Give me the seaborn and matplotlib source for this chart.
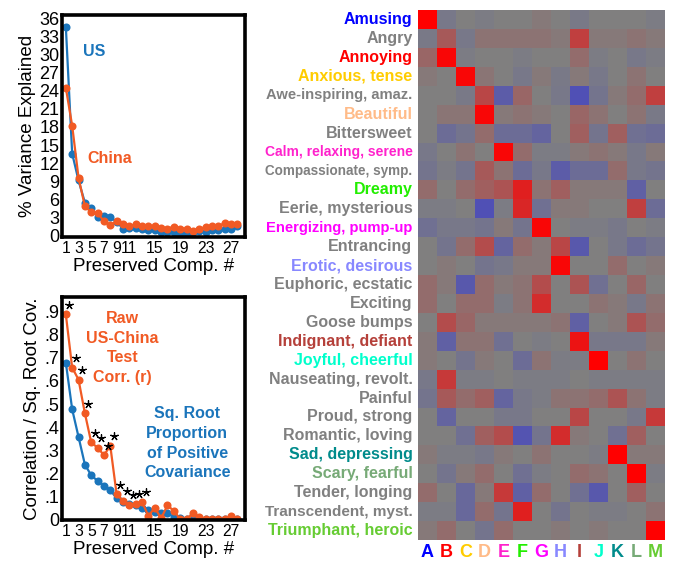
import numpy as np
import pandas as pd
import matplotlib
matplotlib.use("Agg")
import matplotlib.pyplot as plt
import matplotlib.transforms as mtransforms
from matplotlib.colors import LinearSegmentedColormap
import seaborn as sns

# ----------------------------------------------------
# Data
# ----------------------------------------------------
comp = list(range(1, 29))
us_var = [34.6, 13.6, 9.15, 5.5, 4.6, 3.1, 3.3, 3.1, 2.3, 1.2, 1.3, 1.3, 1.2, 1.0,
          1.0, 0.7, 0.7, 0.7, 0.4, 0.4, 0.7, 0.8, 0.7, 0.9, 0.9, 1.2, 1.2, 1.6]
china_var = [24.5, 18.2, 9.6, 4.9, 3.9, 3.8, 2.4, 1.8, 2.4, 1.9, 1.6, 1.9, 1.6, 1.6,
             1.6, 1.3, 1.2, 1.5, 1.2, 1.2, 0.8, 1.2, 1.4, 1.6, 1.6, 2.1, 1.9, 1.9]

raw_corr = [0.89, 0.658, 0.606, 0.46, 0.333, 0.31, 0.278, 0.318, 0.107, 0.08, 0.062,
            0.066, 0.075, 0.013, 0.05, 0.003, 0.06, 0.035, 0.0, 0.0, 0.025, 0.01,
            0.0, 0.0, 0.0, 0.0, 0.013, 0.0]
sqrt_cov = [0.68, 0.477, 0.357, 0.237, 0.19, 0.166, 0.145, 0.126, 0.09, 0.075, 0.065,
            0.06, 0.046, 0.04, 0.03, 0.028, 0.025, 0.01, 0.003, 0.002, 0.002, 0.002,
            0.002, 0.002, 0.002, 0.002, 0.002, 0.002]
n_significant = 13

comp_ticks = [1, 3, 5, 7, 9, 11, 15, 19, 23, 27]
var_ticks = [0, 3, 6, 9, 12, 15, 18, 21, 24, 27, 30, 33, 36]
corr_ticks = [0, 0.1, 0.2, 0.3, 0.4, 0.5, 0.6, 0.7, 0.8, 0.9]
corr_tick_labels = ["0", ".1", ".2", ".3", ".4", ".5", ".6", ".7", ".8", ".9"]

emotions = ["Amusing", "Angry", "Annoying", "Anxious, tense", "Awe-inspiring, amaz.",
            "Beautiful", "Bittersweet", "Calm, relaxing, serene", "Compassionate, symp.",
            "Dreamy", "Eerie, mysterious", "Energizing, pump-up", "Entrancing",
            "Erotic, desirous", "Euphoric, ecstatic", "Exciting", "Goose bumps",
            "Indignant, defiant", "Joyful, cheerful", "Nauseating, revolt.", "Painful",
            "Proud, strong", "Romantic, loving", "Sad, depressing", "Scary, fearful",
            "Tender, longing", "Transcendent, myst.", "Triumphant, heroic"]
GRAY = "#808080"
emotion_colors = ["#0000ff", GRAY, "#ff0000", "#ffcc00", GRAY, "#ffbb88", GRAY, "#ff22cc",
                  GRAY, "#22ee00", GRAY, "#ff00ff", GRAY, "#8888ff", GRAY, GRAY, GRAY,
                  "#b5403a", "#00ffcc", GRAY, GRAY, GRAY, GRAY, "#008b8b", "#77aa77",
                  GRAY, GRAY, "#66cc33"]

factors = list("ABCDEFGHIJKLM")
factor_colors = ["#0000ff", "#ff0000", "#ffcc00", "#ffbb88", "#ff22cc", "#22ee00", "#ff00ff",
                 "#8888ff", "#b5403a", "#00ffcc", "#008b8b", "#77aa77", "#66cc33"]

loadings = [
    [1.0, -0.1, 0, -0.05, 0, 0, 0.05, 0, -0.08, 0, 0, 0, -0.05],
    [-0.08, 0.3, -0.1, 0.1, 0.1, 0.1, 0.1, 0.05, 0.5, 0.05, 0.05, 0.1, 0.05],
    [0.2, 0.95, -0.05, 0, 0, -0.05, 0, 0, 0.15, -0.05, 0, -0.1, -0.05],
    [0.05, 0, 0.95, 0.08, 0, -0.1, 0.05, -0.08, 0.05, -0.1, 0, 0.1, 0],
    [0, 0, -0.08, 0.45, -0.45, 0.2, 0, -0.1, -0.6, -0.15, 0.05, 0.15, 0.5],
    [0, 0.08, 0.08, 0.95, 0.05, 0.1, 0.05, 0, 0.2, 0.1, 0, 0.1, -0.08],
    [0, -0.25, -0.15, 0.15, -0.25, -0.25, -0.35, 0, 0.25, -0.15, 0.25, -0.2, -0.25],
    [-0.1, 0, 0.1, 0, 0.95, 0.15, -0.05, -0.05, 0.05, 0.1, 0.05, -0.1, 0.05],
    [-0.15, -0.05, -0.15, 0.3, 0.1, -0.25, -0.1, -0.45, -0.25, -0.25, 0.15, -0.1, -0.15],
    [0.15, 0, 0.15, 0.25, 0.35, 0.75, 0.1, 0.25, 0.05, 0.05, 0.05, -0.4, 0],
    [-0.05, -0.05, 0, -0.6, -0.05, 0.7, -0.2, 0.05, 0.05, 0, 0, 0.5, -0.25],
    [-0.2, -0.1, -0.1, -0.15, 0.05, -0.15, 0.95, 0, -0.05, -0.05, -0.1, 0, -0.05],
    [0, -0.15, 0.15, 0.4, -0.35, 0.15, 0.05, 0.45, -0.5, 0, -0.1, -0.25, -0.15],
    [0, 0.05, 0, -0.15, -0.1, 0.05, 0.05, 0.95, 0, 0, 0.15, 0, 0.05],
    [0.15, 0.05, -0.5, 0.15, 0.05, 0.1, 0.4, 0, 0.35, -0.2, 0, 0.2, 0],
    [0.15, 0, 0.15, 0.15, -0.05, 0.1, 0.65, 0, 0, 0.1, 0.05, -0.1, 0.1],
    [0, 0.4, 0.2, 0.05, 0.05, 0.05, 0.05, 0.1, -0.4, 0, 0.05, 0.35, 0.15],
    [0.05, -0.4, 0.1, 0.1, -0.2, 0, -0.05, 0, 0.85, -0.1, -0.1, -0.1, 0.05],
    [0.05, 0, -0.15, 0.05, 0, -0.25, 0.1, -0.05, -0.05, 1.0, 0, 0.1, 0],
    [-0.1, 0.55, -0.05, -0.05, 0, -0.05, -0.05, -0.05, 0, -0.05, -0.05, -0.05, -0.05],
    [-0.15, 0.3, 0.15, 0.25, -0.35, -0.1, -0.05, 0.1, 0.1, 0.15, 0.35, 0.1, -0.05],
    [0, -0.35, 0, 0, -0.1, -0.1, 0, 0, 0.45, 0, 0, -0.1, 0.55],
    [0, 0, -0.2, 0.25, 0.4, -0.55, -0.15, 0.65, 0.05, 0, -0.2, 0.25, 0],
    [0.05, -0.05, -0.05, -0.1, 0.05, 0, 0.1, 0, 0, -0.05, 1.0, 0.05, 0.05],
    [0, -0.15, 0.05, 0.15, 0, -0.2, -0.05, 0, 0.15, 0.1, 0, 1.0, -0.05],
    [0.15, 0, -0.3, 0.05, 0.55, -0.4, 0.15, 0, -0.2, -0.5, 0, 0.25, 0],
    [-0.05, -0.05, -0.3, 0.15, -0.15, 0.75, 0, -0.15, 0, -0.05, -0.05, 0, 0.1],
    [0.05, 0.15, 0, -0.15, 0.15, 0, 0, 0.05, 0, 0.05, 0, 0, 1.0],
]

# ----------------------------------------------------
# Styling
# ----------------------------------------------------
BLUE = "#1b75bb"
ORANGE = "#f15a24"

sns.set_theme(style="white")
plt.rcParams["font.family"] = ["Liberation Sans", "DejaVu Sans"]

fig = plt.figure(figsize=(6.74, 5.61), dpi=100)
ax1 = fig.add_axes([0.092, 0.5775, 0.2715, 0.3957])
ax2 = fig.add_axes([0.092, 0.0731, 0.2715, 0.3975])
ax3 = fig.add_axes([0.6202, 0.0374, 0.3665, 0.9447])


def style_line_axis(ax):
    for spine in ax.spines.values():
        spine.set_visible(True)
        spine.set_color("black")
        spine.set_linewidth(2.6)
    ax.tick_params(length=0, labelsize=13, pad=2, colors="black")
    ax.tick_params(axis="x", labelsize=11.3, pad=3)
    ax.set_xlim(0.4, 29.2)
    ax.set_xticks(comp_ticks)
    ax.set_xlabel("Preserved Comp. #", fontsize=13.5, labelpad=1, color="black")


line_kw = dict(marker="o", markersize=5.8, markeredgewidth=0, linewidth=1.6)

# ----------------------------------------------------
# Top: % variance explained
# ----------------------------------------------------
sns.lineplot(x=comp, y=us_var, ax=ax1, color=BLUE, **line_kw)
sns.lineplot(x=comp, y=china_var, ax=ax1, color=ORANGE, **line_kw)
style_line_axis(ax1)
ax1.set_ylim(-0.2, 36.5)
ax1.set_yticks(var_ticks)
ax1.set_ylabel("% Variance Explained", fontsize=13.5, labelpad=2, color="black")
ax1.text(5.5, 30.4, "US", color=BLUE, fontsize=11.5, fontweight="bold", ha="center", va="center")
ax1.text(7.9, 12.7, "China", color=ORANGE, fontsize=11.5, fontweight="bold", ha="center", va="center")

# ----------------------------------------------------
# Bottom: correlation / sq. root covariance
# ----------------------------------------------------
sns.lineplot(x=comp, y=sqrt_cov, ax=ax2, color=BLUE, **line_kw)
sns.lineplot(x=comp, y=raw_corr, ax=ax2, color=ORANGE, **line_kw)
style_line_axis(ax2)
ax2.set_ylim(-0.004, 0.965)
ax2.set_yticks(corr_ticks)
ax2.set_yticklabels(corr_tick_labels)
ax2.set_ylabel("Correlation / Sq. Root Cov.", fontsize=13.5, labelpad=2, color="black")

# significance stars: 5-arm asterisks just above/right of each significant point
star_tr = mtransforms.offset_copy(ax2.transData, fig=fig, x=2.6, y=6.8, units="points")
ax2.scatter(comp[:n_significant], raw_corr[:n_significant], marker=(5, 2, 0), s=30,
            color="black", linewidths=0.9, transform=star_tr, zorder=5)

ax2.text(9.9, 0.743, "Raw\nUS-China\nTest\nCorr. (r)", color=ORANGE, fontsize=11.5,
         fontweight="bold", ha="center", va="center", linespacing=1.4)
ax2.text(20.1, 0.33, "Sq. Root\nProportion\nof Positive\nCovariance", color=BLUE, fontsize=11.5,
         fontweight="bold", ha="center", va="center", linespacing=1.4)

# ----------------------------------------------------
# Right: loadings heatmap
# ----------------------------------------------------
cmap = LinearSegmentedColormap.from_list("bgr", ["#3030d8", "#808080", "#ff0000"])
df = pd.DataFrame(loadings, index=emotions, columns=factors)
sns.heatmap(df, ax=ax3, cmap=cmap, vmin=-1, vmax=1, cbar=False,
            xticklabels=factors, yticklabels=emotions)
ax3.tick_params(length=0)
ax3.tick_params(axis="y", pad=4, labelrotation=0)
ax3.tick_params(axis="x", pad=3, labelrotation=0)
for lbl, col in zip(ax3.get_yticklabels(), emotion_colors):
    lbl.set_color(col)
    lbl.set_fontweight("bold")
    lbl.set_fontsize(11.5)
for lbl, col in zip(ax3.get_xticklabels(), factor_colors):
    lbl.set_color(col)
    lbl.set_fontweight("bold")
    lbl.set_fontsize(13)

# long row labels are squeezed in the original: shrink them to the same width
renderer = fig.canvas.get_renderer()
max_w = 148
for lbl in ax3.get_yticklabels():
    w = lbl.get_window_extent(renderer).width
    if w > max_w:
        lbl.set_fontsize(lbl.get_fontsize() * max_w / w)

fig.savefig("out.png", dpi=100)
